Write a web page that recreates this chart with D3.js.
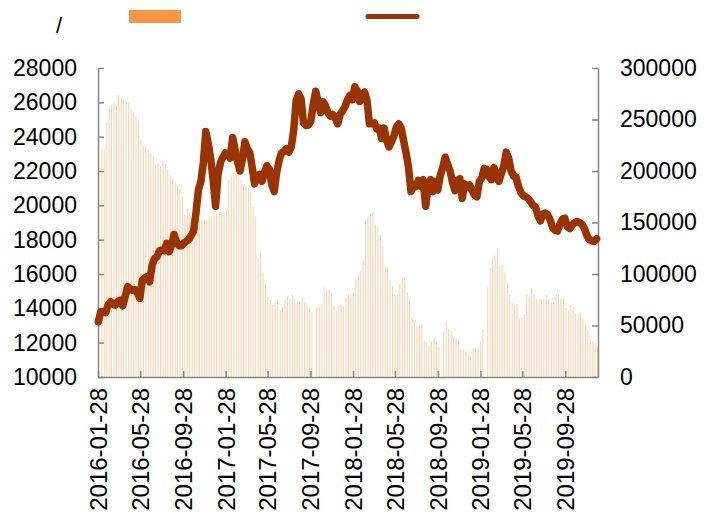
<!DOCTYPE html>
<html>
<head>
<meta charset="utf-8">
<script src="https://cdn.jsdelivr.net/npm/d3@7"></script>
<style>
  body { margin: 0; background: #fff; }
  text { font-family: "Liberation Sans", Arial, sans-serif; fill: #000; }
</style>
</head>
<body>
<div id="chart"></div>
<script>
// x axis tick labels (every 4 months)
var tickLabels = ["2016-01-28", "2016-05-28", "2016-09-28", "2017-01-28", "2017-05-28", "2017-09-28",
  "2018-01-28", "2018-05-28", "2018-09-28", "2019-01-28", "2019-05-28", "2019-09-28"];
var leftTicks = [10000, 12000, 14000, 16000, 18000, 20000, 22000, 24000, 26000, 28000];
var rightTicks = [0, 50000, 100000, 150000, 200000, 250000, 300000];

// weekly bars (right axis), first week starts barStart; null = holiday week
var barStart = "2016-02-08";
var volume = [
  221000, 221000, 247000, 261000, 264000, 266000, 263000, 274000, 271000, 270000,
  268000, 266000, 259000, 257000, 253000, 249000, 231000, 224000, 223000, 220000,
  218000, 215000, 206000, 207000, 204000, 211000, 207000, 201000, 196000, 193000,
  189000, 186000, 183000, 175000, 158000, 163000, 160000, 157000, 155000, 154000,
  154000, 153000, 153000, 152000, 157000, 157000, 156000, 158000, 159000, 160000,
  161000, 162000, 191000, 196000, 198000, 198000, 194000, 191000, 186000, 186000,
  183000, 180000, 165000, 156000, 115000, 120000, 101000, 91000, 78000, 75000,
  70000, 72000, 75000, 65000, 68000, 76000, 78000, 76000, 80000, 76000,
  73000, 73000, 78000, 72000, 69000, 67000, 63000, null, 68000, 68000,
  71000, 87000, 84000, 85000, 80000, 70000, 65000, 70000, 70000, 69000,
  77000, 80000, 80000, 82000, 95000, 99000, 103000, 115000, 151000, 156000,
  158000, 160000, 148000, 146000, 138000, 126000, 107000, 106000, 94000, 88000,
  80000, 80000, 90000, 97000, 96000, 82000, 75000, 58000, 54000, 49000,
  49000, 50000, 35000, 33000, 30000, 34000, 37000, 34000, 29000, null,
  44000, 54000, 47000, 45000, 38000, 37000, 35000, 27000, 27000, 25000,
  22000, 21000, 28000, 28000, 29000, 35000, 46000, null, 87000, 106000,
  113000, 118000, 125000, 109000, 109000, 101000, 91000, 80000, 72000, 70000,
  71000, 56000, 58000, 61000, 80000, 78000, 86000, 80000, 76000, 75000,
  75000, 76000, 80000, 76000, 73000, 73000, 80000, 80000, 76000, 76000,
  67000, 65000, 70000, 68000, 62000, 61000, 63000, 57000, 51000, 45000,
  37000, 35000, 33000, 29000
];

// weekly price line (left axis), first point at lineStart
var lineStart = "2016-01-29";
var price = [
  13220, 13800, 13800, 13750, 14200, 14390, 14250, 14190, 14400, 14480,
  14150, 14700, 15260, 15150, 15050, 15100, 14900, 14580, 15650, 15750,
  15840, 15550, 16500, 16900, 17000, 17350, 17400, 17350, 17790, 17300,
  17700, 18300, 17880, 17650, 17650, 17800, 17900, 18000, 18250, 18500,
  19600, 20900, 21400, 22500, 24300, 23600, 22700, 21500, 19950, 21800,
  22500, 22800, 23050, 22930, 22750, 23950, 23220, 22550, 22000, 22700,
  23700, 23300, 23050, 22200, 21250, 21600, 21800, 21400, 21900, 22300,
  22100, 21200, 20800, 21900, 22600, 23050, 23150, 23300, 23100, 23400,
  24400, 26100, 26500, 26200, 24800, 24650, 24680, 24900, 25900, 26650,
  26000, 25400, 26030, 25800, 25400, 25200, 25300, 25100, 24750, 25300,
  25500, 25750, 26150, 26400, 26150, 26900, 26650, 26050, 26400, 26600,
  26100, 24750, 24750, 24800, 24450, 24500, 23900, 24500, 23800, 23400,
  23700, 24050, 24550, 24750, 24500, 23750, 23050, 22200, 20800, 21200,
  21100, 21450, 21100, 21500, 19950, 21100, 21500, 20800, 21400, 20900,
  21750, 22200, 22800, 22400, 22000, 21350, 20850, 21450, 21550, 20400,
  21250, 21080, 21180, 20880, 20600, 20500, 21400, 21600, 22150, 22100,
  21650, 21500, 22200, 21700, 21400, 21850, 22300, 23100, 22750, 22000,
  21700, 21650, 21100, 20750, 20550, 20500, 20400, 20200, 20000, 19900,
  19400, 19100, 19500, 19550, 19450, 19140, 18700, 18550, 18500, 18900,
  19200, 19250, 18750, 18650, 18850, 19000, 19050, 19000, 18900, 18650,
  18250, 18000, 17950, 17900, 18050
];

var W = 707, H = 520;
var plotLeft = 98, plotRight = 598, plotTop = 68, plotBottom = 377;
var axisColor = "#868686";
var parse = d3.timeParse("%Y-%m-%d");

var svg = d3.select("#chart").append("svg")
  .attr("width", W)
  .attr("height", H);

var x = d3.scaleTime()
  .domain([parse("2016-01-28"), parse("2019-12-31")])
  .range([plotLeft, plotRight]);
var yL = d3.scaleLinear().domain([10000, 28000]).range([plotBottom, plotTop]);
var yR = d3.scaleLinear().domain([0, 300000]).range([plotBottom, plotTop]);

var bars = volume.map(function(v, i) {
  return { date: d3.timeWeek.offset(parse(barStart), i), value: v };
}).filter(function(d) { return d.value != null; });

var line = price.map(function(v, i) {
  return { date: d3.timeWeek.offset(parse(lineStart), i), value: v };
});

// bars
svg.append("g").selectAll("rect")
  .data(bars)
  .enter().append("rect")
  .attr("x", function(d) { return x(d.date) - 0.5; })
  .attr("width", 1)
  .attr("y", function(d) { return yR(d.value); })
  .attr("height", function(d) { return plotBottom - yR(d.value); })
  .attr("fill", "#fbcfaa");

// axes
var gx = svg.append("g")
  .attr("transform", "translate(0," + plotBottom + ")")
  .call(d3.axisBottom(x)
    .tickValues(tickLabels.map(parse))
    .tickSizeInner(-6).tickSizeOuter(0)
    .tickFormat(d3.timeFormat("%Y-%m-%d")));

var gl = svg.append("g")
  .attr("transform", "translate(" + plotLeft + ",0)")
  .call(d3.axisLeft(yL).tickValues(leftTicks)
    .tickSizeInner(-6).tickSizeOuter(0).tickPadding(21)
    .tickFormat(d3.format("d")));

var gr = svg.append("g")
  .attr("transform", "translate(" + plotRight + ",0)")
  .call(d3.axisRight(yR).tickValues(rightTicks)
    .tickSizeInner(-6).tickSizeOuter(0).tickPadding(22)
    .tickFormat(d3.format("d")));

[gx, gl, gr].forEach(function(g) {
  g.select(".domain").attr("stroke", axisColor).attr("stroke-width", 1.5);
  g.selectAll(".tick line").attr("stroke", axisColor).attr("stroke-width", 1.5);
  g.selectAll("text")
    .attr("font-size", 23)
    .attr("font-family", "Liberation Sans, Arial, sans-serif")
    .attr("fill", "#000");
});

gx.selectAll("text")
  .attr("transform", "rotate(-90)")
  .attr("text-anchor", "end")
  .attr("x", -11)
  .attr("y", 0)
  .attr("dy", "0.35em")
  .attr("font-size", 24);

// price line
svg.append("path")
  .datum(line)
  .attr("fill", "none")
  .attr("stroke", "#993300")
  .attr("stroke-width", 7.5)
  .attr("stroke-linejoin", "round")
  .attr("stroke-linecap", "round")
  .attr("d", d3.line()
    .x(function(d) { return x(d.date); })
    .y(function(d) { return yL(d.value); }));

// unit label and legend
svg.append("text")
  .attr("x", 56)
  .attr("y", 33)
  .attr("font-size", 22)
  .text("/");

svg.append("rect")
  .attr("x", 129).attr("y", 10)
  .attr("width", 52).attr("height", 13)
  .attr("fill", "#f79646");

svg.append("line")
  .attr("x1", 368).attr("x2", 417)
  .attr("y1", 16.5).attr("y2", 16.5)
  .attr("stroke", "#993300")
  .attr("stroke-width", 5)
  .attr("stroke-linecap", "round");
</script>
</body>
</html>
